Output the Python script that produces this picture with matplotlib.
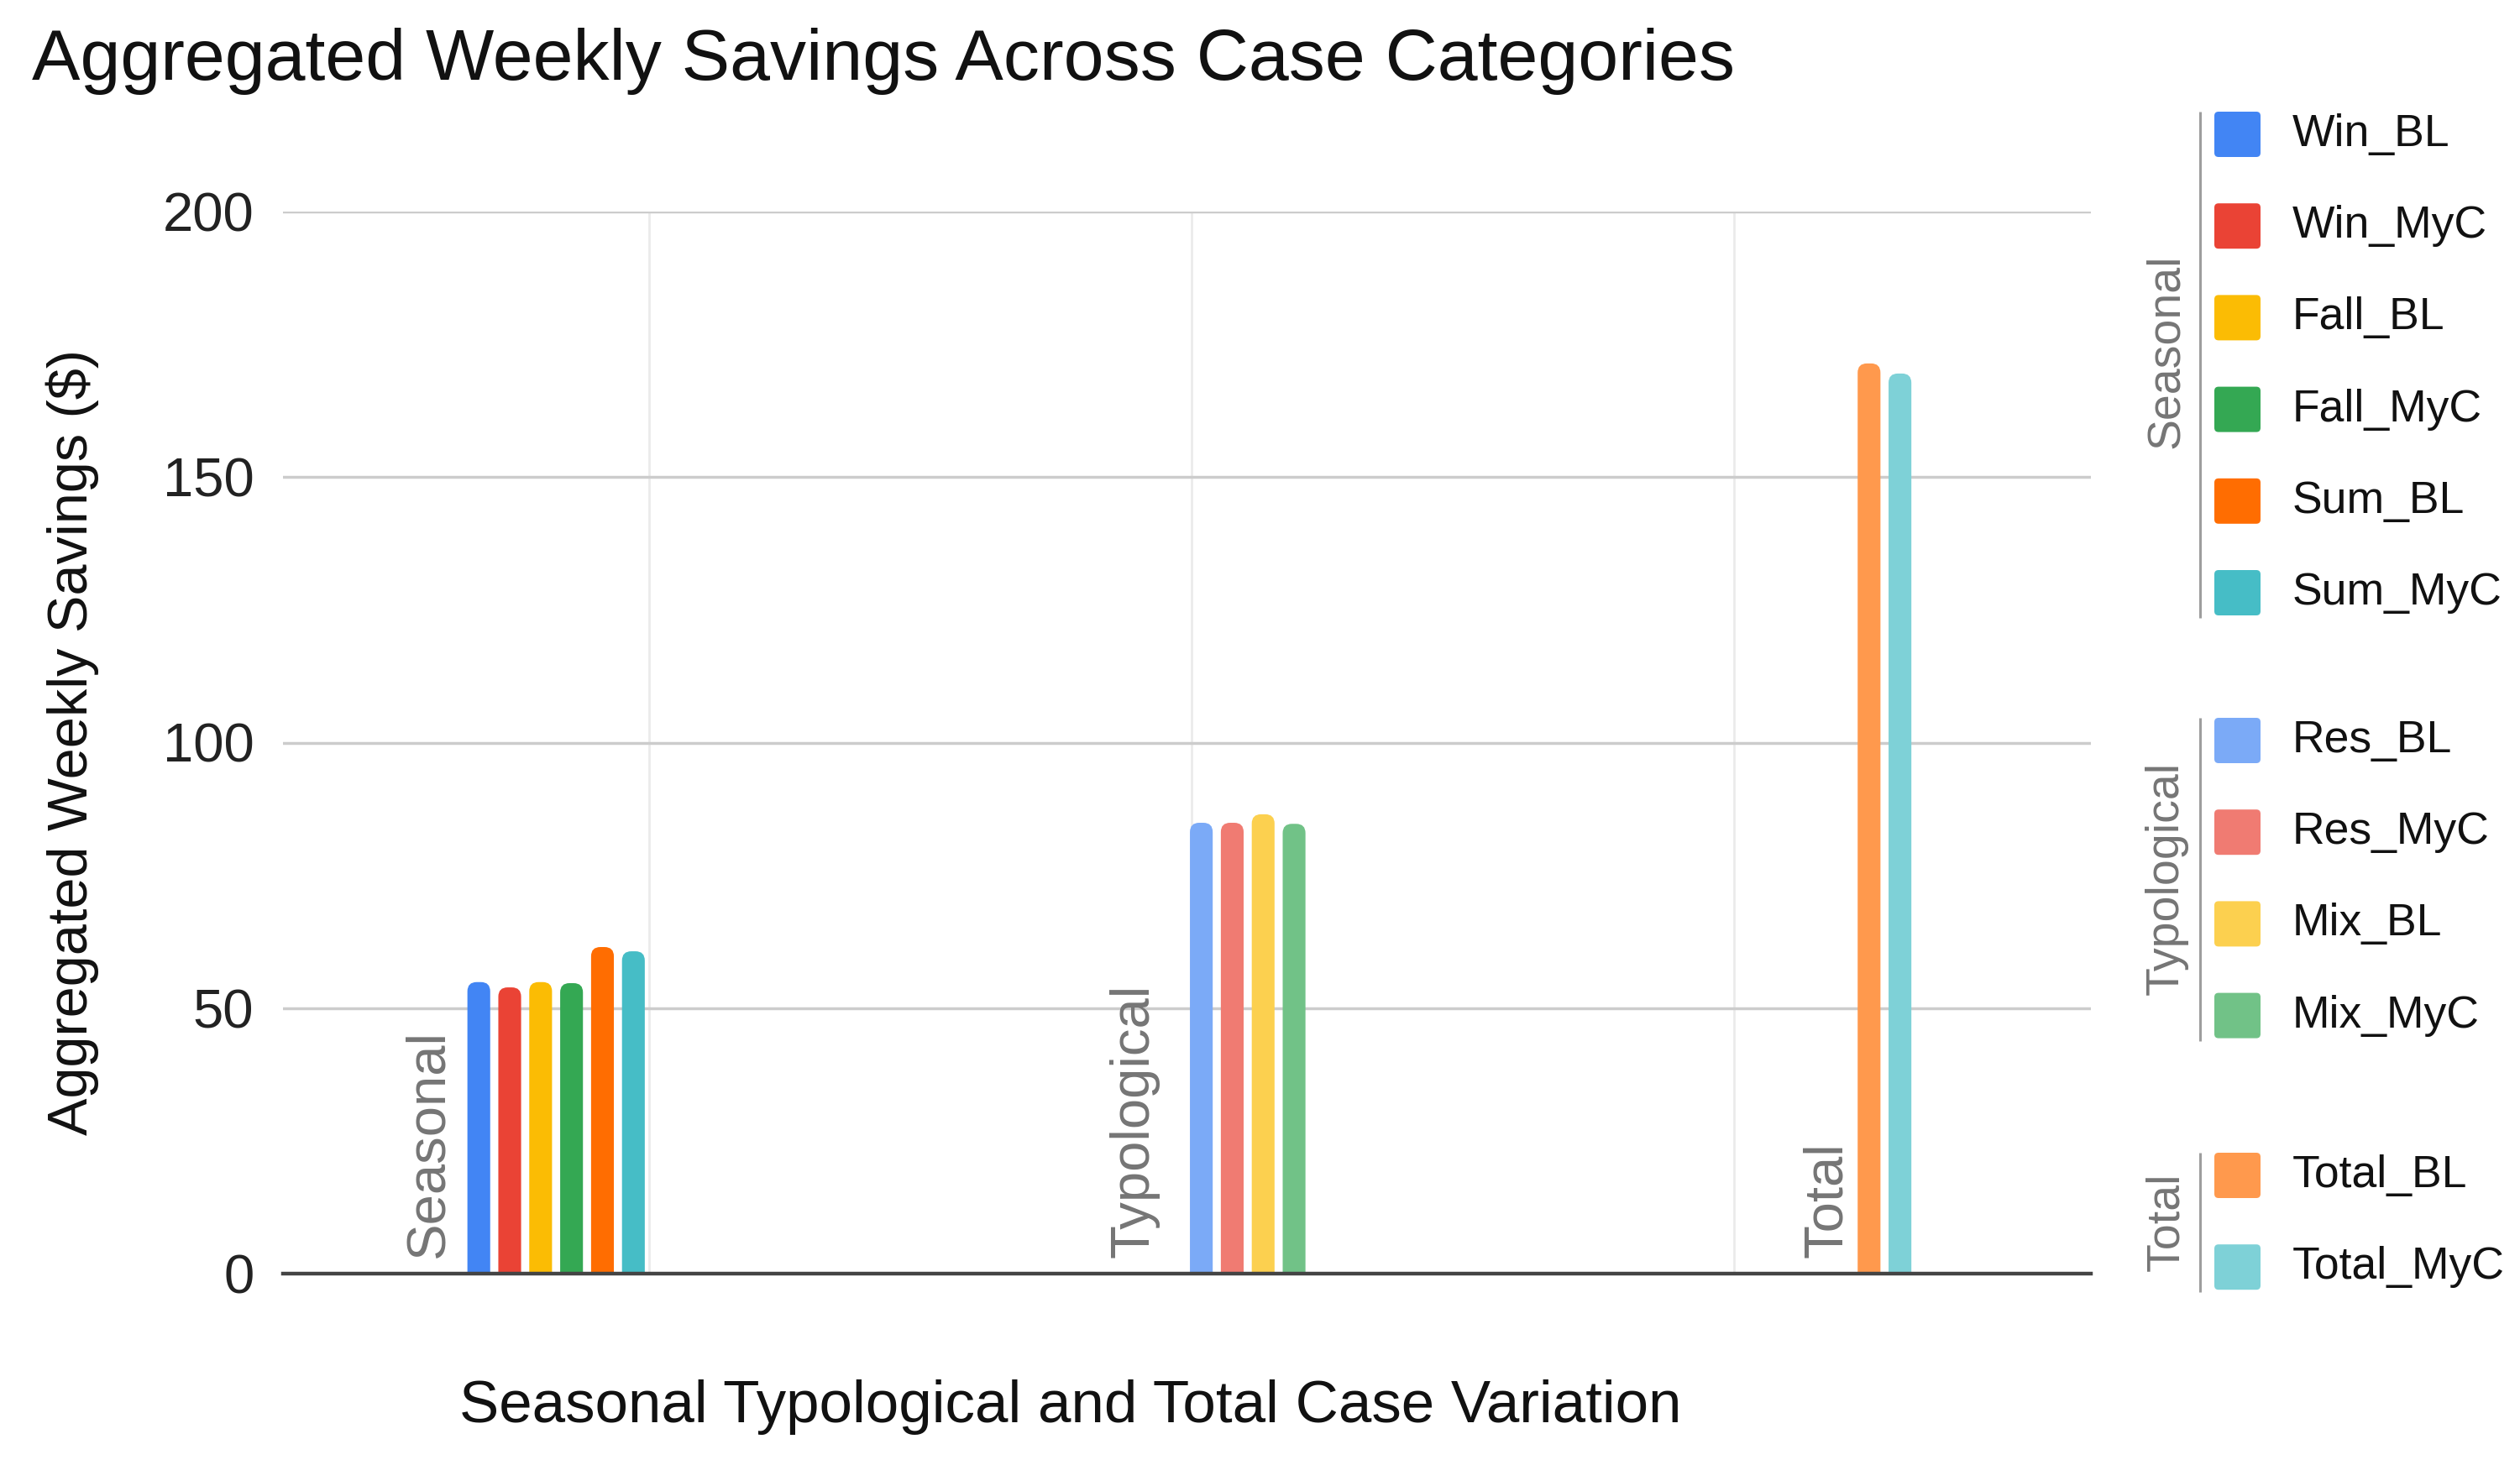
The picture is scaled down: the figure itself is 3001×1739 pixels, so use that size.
import matplotlib
matplotlib.use("Agg")
import matplotlib.pyplot as plt
from matplotlib.patches import FancyBboxPatch

plt.rcParams['font.family'] = ['Liberation Sans', 'DejaVu Sans']

# data
groups = ['Seasonal', 'Typological', 'Total']
seasonal_series = ['Win_BL', 'Win_MyC', 'Fall_BL', 'Fall_MyC', 'Sum_BL', 'Sum_MyC']
seasonal_values = [54.9, 53.9, 54.9, 54.7, 61.5, 60.7]
seasonal_colors = ['#4285f4', '#ea4335', '#fbbc04', '#34a853', '#ff6d01', '#46bdc6']

typological_series = ['Res_BL', 'Res_MyC', 'Mix_BL', 'Mix_MyC']
typological_values = [84.9, 84.9, 86.5, 84.7]
typological_colors = ['#7baaf7', '#f07b72', '#fcd04f', '#71c287']

total_series = ['Total_BL', 'Total_MyC']
total_values = [171.4, 169.5]
total_colors = ['#ff994d', '#7ed1d7']

y_ticks = [0, 50, 100, 150, 200]

series_by_group = [seasonal_series, typological_series, total_series]
values_by_group = [seasonal_values, typological_values, total_values]
colors_by_group = [seasonal_colors, typological_colors, total_colors]

# layout
W, H = 3001, 1739
group_first_x = [-0.314, 1.018, 2.249]   # centre of first bar in each group
group_label_x = [-0.360, 0.940, 2.218]   # right edge of rotated category label
slot = 0.057
bar_w = 0.042
xmin, xmax = -0.675, 2.658

fig = plt.figure(figsize=(W / 100, H / 100), dpi=100)
ax_left, ax_bottom, ax_w, ax_h = 337 / W, 1 - 1517 / H, 2153 / W, 1265 / H
ax = fig.add_axes([ax_left, ax_bottom, ax_w, ax_h])
ax.set_xlim(xmin, xmax)
ax.set_ylim(0, 200)

# rounded bar tops: radius in pixels converted to each axis
px_x = ax_w * W / (xmax - xmin)
px_y = ax_h * H / 200
r_px = 11
rx, ry = r_px / px_x, r_px / px_y

for g, name in enumerate(groups):
    for i, (s, v, c) in enumerate(zip(series_by_group[g], values_by_group[g], colors_by_group[g])):
        xc = group_first_x[g] + i * slot
        p = FancyBboxPatch((xc - bar_w / 2, -ry), bar_w, v + ry,
                           boxstyle=f"round,pad=0,rounding_size={rx}",
                           mutation_aspect=ry / rx, fc=c, ec='none', zorder=2)
        ax.add_patch(p)
    ax.text(group_label_x[g], 3, name, rotation=90, ha='right', va='bottom',
            fontsize=47, color='#757575', zorder=3)

ax.set_yticks(y_ticks)
ax.set_xticks([0, 1, 2])
ax.set_xticklabels([])
ax.tick_params(axis='both', length=0)
ax.tick_params(axis='y', labelsize=47, labelcolor='#222222', pad=25)
ax.yaxis.grid(True, color='#cccccc', lw=2.5)
ax.xaxis.grid(True, color='#ebebeb', lw=2)
ax.set_axisbelow(True)
for sp in ['top', 'right', 'left']:
    ax.spines[sp].set_visible(False)
ax.spines['bottom'].set_color('#444444')
ax.spines['bottom'].set_linewidth(3.2)
ax.spines['bottom'].set_zorder(4)

fig.text(38 / W, 1 - 95 / H, 'Aggregated Weekly Savings Across Case Categories',
         fontsize=62, color='#111111', va='baseline', ha='left')
fig.text(86 / W, 1 - 884 / H, 'Aggregated Weekly Savings ($)', rotation=90,
         fontsize=48, color='#111111', ha='center', va='center')
fig.text(1275 / W, 1 - 1676 / H, 'Seasonal Typological and Total Case Variation',
         fontsize=51, color='#111111', ha='center', va='center')

# grouped legend on the right, in pixel coordinates
lax = fig.add_axes([0, 0, 1, 1])
lax.set_xlim(0, W)
lax.set_ylim(H, 0)
lax.axis('off')
lax.patch.set_visible(False)

legend_first_y = [160, 882, 1400]
legend_label_y = [418, 1046, 1455]
row_h = 109.2
sw_x, sw_w, sw_h = 2637, 55, 54
for g, name in enumerate(groups):
    ys = [legend_first_y[g] + k * row_h for k in range(len(series_by_group[g]))]
    lax.plot([2620, 2620], [ys[0] - 27, ys[-1] + 30], color='#9e9e9e', lw=2.2,
             solid_capstyle='butt')
    lax.text(2580, legend_label_y[g], name, rotation=90, ha='center', va='center',
             fontsize=40, color='#757575')
    for y, s, c in zip(ys, series_by_group[g], colors_by_group[g]):
        lax.add_patch(FancyBboxPatch((sw_x, y - sw_h / 2), sw_w, sw_h,
                                     boxstyle="round,pad=0,rounding_size=5",
                                     fc=c, ec='none'))
        lax.text(2730, y, s, ha='left', va='center', fontsize=38.5, color='#111111')

fig.savefig('out.png', dpi=100)
